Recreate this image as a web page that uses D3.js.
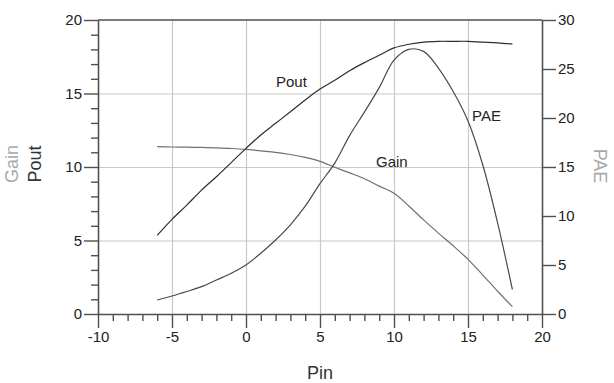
<!DOCTYPE html>
<html>
<head>
<meta charset="utf-8">
<script src="https://cdn.jsdelivr.net/npm/d3@7/dist/d3.min.js"></script>
<style>
  html, body { margin: 0; padding: 0; background: #fff; }
  svg { display: block; font-family: Arial, "Liberation Sans", sans-serif; }
</style>
</head>
<body>
<svg id="chart" width="614" height="383"></svg>
<script>
// Input power sweep (dBm)
const pin = [-6, -5, -4, -3, -2, -1, 0, 1, 2, 3, 4, 5, 6, 7, 8, 9, 10, 11, 12, 13, 14, 15, 16, 17, 18];
// Output power (dBm), left axis
const pout = [5.35, 6.44, 7.41, 8.43, 9.34, 10.3, 11.27, 12.18, 12.97, 13.76, 14.56, 15.3, 15.9, 16.55, 17.1, 17.6, 18.1, 18.35, 18.5, 18.55, 18.55, 18.55, 18.5, 18.45, 18.37];
// Gain (dB), left axis
const gain = [11.38, 11.36, 11.35, 11.33, 11.3, 11.26, 11.2, 11.1, 11.0, 10.85, 10.65, 10.38, 9.98, 9.6, 9.2, 8.7, 8.22, 7.35, 6.4, 5.5, 4.64, 3.72, 2.65, 1.55, 0.5];
// Power-added efficiency (%), right axis
const pae = [1.43, 1.84, 2.3, 2.79, 3.47, 4.15, 5.0, 6.2, 7.55, 9.1, 11.0, 13.3, 15.4, 18.2, 20.6, 23.1, 25.9, 27.0, 26.8, 25.1, 22.7, 19.7, 15.2, 9.3, 2.5];

const xTicks = [-10, -5, 0, 5, 10, 15, 20];
const leftTicks = [0, 5, 10, 15, 20];
const rightTicks = [0, 5, 10, 15, 20, 25, 30];

const svg = d3.select("#chart");
const plotL = 98, plotR = 542, plotT = 20, plotB = 314;

const x = d3.scaleLinear().domain([-10, 20]).range([plotL, plotR]);
const yL = d3.scaleLinear().domain([0, 20]).range([plotB, plotT]);
const yR = d3.scaleLinear().domain([0, 30]).range([plotB, plotT]);

const axisColor = "#505050";
const gridColor = "#c8c8c8";
const textColor = "#222";
const plain = d => String(d); // ASCII hyphen for negatives

// grid
const grid = svg.append("g");
grid.selectAll("line.vx").data(xTicks.filter(d => d > -10 && d < 20)).enter()
  .append("line")
  .attr("x1", d => x(d) + 0.5).attr("x2", d => x(d) + 0.5)
  .attr("y1", plotT).attr("y2", plotB)
  .attr("stroke", gridColor).attr("stroke-width", 1.2);
grid.selectAll("line.hy").data(leftTicks.filter(d => d > 0 && d < 20)).enter()
  .append("line")
  .attr("x1", plotL).attr("x2", plotR)
  .attr("y1", d => yL(d) + 0.5).attr("y2", d => yL(d) + 0.5)
  .attr("stroke", gridColor).attr("stroke-width", 1.2);

// top frame line
svg.append("line")
  .attr("x1", plotL).attr("x2", plotR).attr("y1", plotT).attr("y2", plotT)
  .attr("stroke", axisColor).attr("stroke-width", 1.6);

function styleAxis(g) {
  g.select(".domain").attr("stroke", axisColor).attr("stroke-width", 1.6);
  g.selectAll(".tick line").attr("stroke", axisColor).attr("stroke-width", 1.4);
  g.selectAll(".tick text").attr("fill", textColor).attr("font-size", 15)
    .attr("font-family", "Arial, 'Liberation Sans', sans-serif");
}

// minor ticks (every unit)
const xMinor = d3.range(-10, 21, 1).filter(d => d % 5 !== 0);
const lMinor = d3.range(0, 21, 1).filter(d => d % 5 !== 0);

svg.append("g").attr("transform", `translate(0,${plotB})`)
  .call(d3.axisBottom(x).tickValues(xMinor).tickSize(7).tickFormat(""))
  .call(g => { styleAxis(g); g.select(".domain").remove(); });
svg.append("g").attr("transform", `translate(${plotL},0)`)
  .call(d3.axisLeft(yL).tickValues(lMinor).tickSize(7).tickFormat(""))
  .call(g => { styleAxis(g); g.select(".domain").remove(); });

svg.append("g").attr("transform", `translate(0,${plotB})`)
  .call(d3.axisBottom(x).tickValues(xTicks).tickSize(14).tickSizeOuter(0).tickPadding(3).tickFormat(plain))
  .call(styleAxis);
svg.append("g").attr("transform", `translate(${plotL},0)`)
  .call(d3.axisLeft(yL).tickValues(leftTicks).tickSize(14).tickSizeOuter(0).tickPadding(2).tickFormat(plain))
  .call(styleAxis);
svg.append("g").attr("transform", `translate(${plotR},0)`)
  .call(d3.axisRight(yR).tickValues(rightTicks).tickSize(14).tickSizeOuter(0).tickPadding(2).tickFormat(plain))
  .call(styleAxis);

// curves
const rows = pin.map((p, i) => ({ p, pout: pout[i], gain: gain[i], pae: pae[i] }));
const curve = d3.curveCatmullRom.alpha(0.5);
const lineL = key => d3.line().x(d => x(d.p)).y(d => yL(d[key])).curve(curve);
const lineR = key => d3.line().x(d => x(d.p)).y(d => yR(d[key])).curve(curve);

svg.append("path").datum(rows).attr("d", lineL("gain"))
  .attr("fill", "none").attr("stroke", "#707070").attr("stroke-width", 1.2);
svg.append("path").datum(rows).attr("d", lineR("pae"))
  .attr("fill", "none").attr("stroke", "#4a4a4a").attr("stroke-width", 1.2);
svg.append("path").datum(rows).attr("d", lineL("pout"))
  .attr("fill", "none").attr("stroke", "#2e2e2e").attr("stroke-width", 1.2);

// curve labels
const lab = svg.append("g").attr("font-size", 15).attr("fill", textColor);
lab.append("text").attr("x", 276).attr("y", 87).text("Pout");
lab.append("text").attr("x", 472).attr("y", 121).text("PAE");
lab.append("text").attr("x", 376).attr("y", 167).text("Gain");

// axis titles
svg.append("text").attr("transform", "translate(18,164) rotate(-90)")
  .attr("text-anchor", "middle").attr("font-size", 18).attr("fill", "#a8a8a8").text("Gain");
svg.append("text").attr("transform", "translate(41,164) rotate(-90)")
  .attr("text-anchor", "middle").attr("font-size", 18).attr("fill", "#333").text("Pout");
svg.append("text").attr("transform", "translate(594,166) rotate(90)")
  .attr("text-anchor", "middle").attr("font-size", 18).attr("fill", "#a8a8a8").text("PAE");
svg.append("text").attr("x", 320).attr("y", 379)
  .attr("text-anchor", "middle").attr("font-size", 18).attr("fill", "#333").text("Pin");
</script>
</body>
</html>
